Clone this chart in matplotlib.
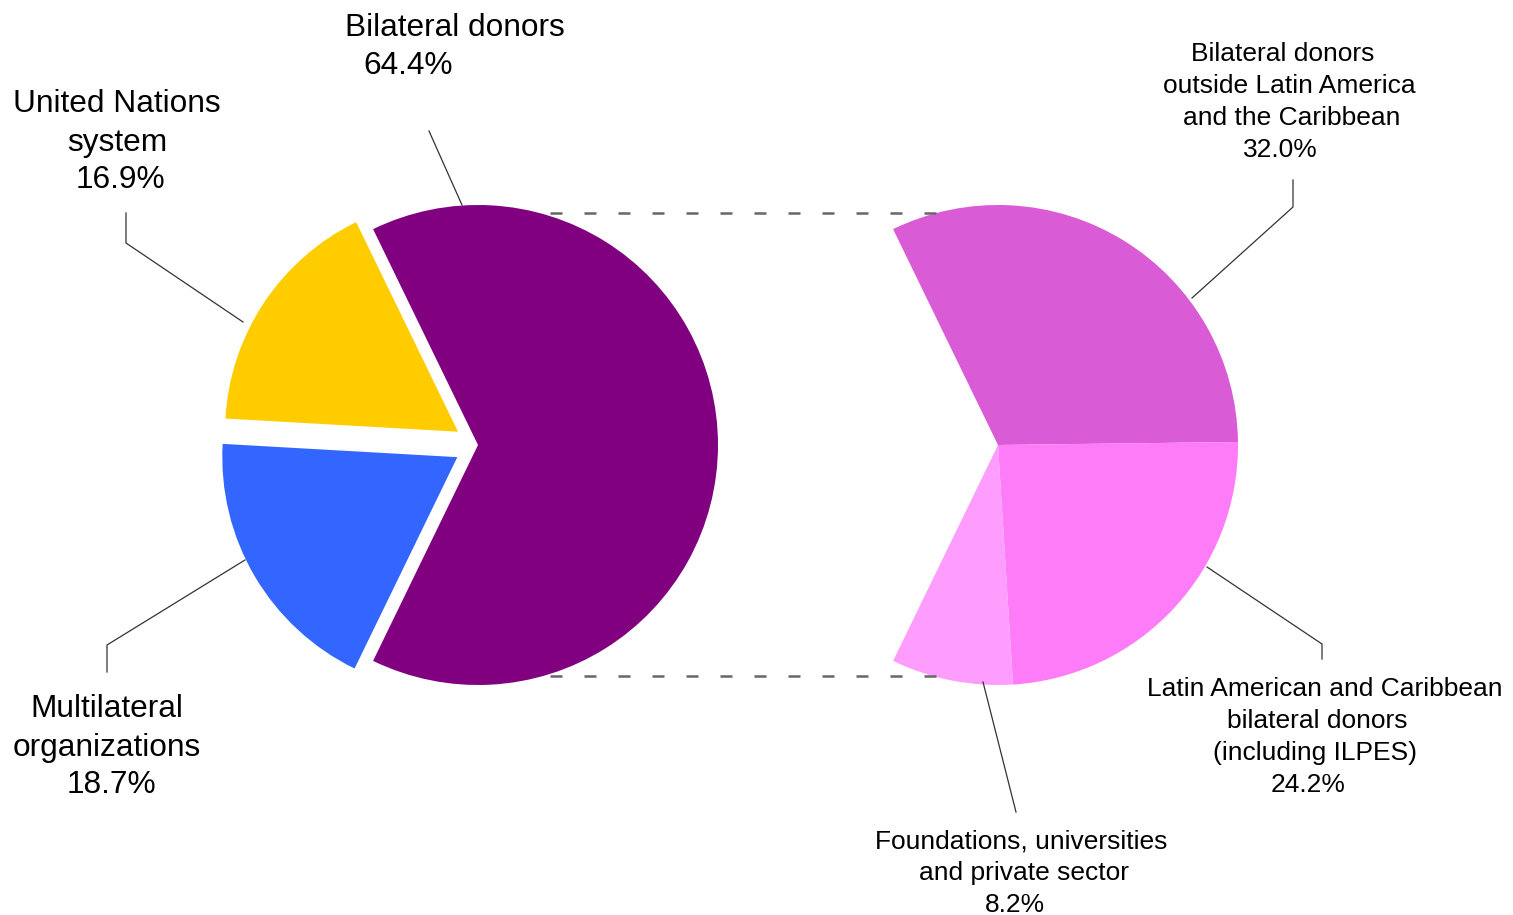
import matplotlib.pyplot as plt

# Left pie: sources of funding (percent)
main_labels = ["Bilateral donors", "United Nations\nsystem", "Multilateral\norganizations"]
main_shares = [64.4, 16.9, 18.7]
main_colors = ["#800080", "#FFCC00", "#3366FF"]
main_explode = [0.0, 0.1, 0.1]

# Right pie: breakdown of bilateral donors (percent of total)
sub_labels = ["Bilateral donors\noutside Latin America\nand the Caribbean",
              "Latin American and Caribbean\nbilateral donors\n(including ILPES)",
              "Foundations, universities\nand private sector"]
sub_shares = [32.0, 24.2, 8.2]
sub_colors = ["#D95BD6", "#FF7CF8", "#FF9DFF"]

plt.rcParams["font.family"] = ["Liberation Sans", "DejaVu Sans"]

W, H = 1513, 915
fig = plt.figure(figsize=(W / 100, H / 100), dpi=100)
ax = fig.add_axes([0, 0, 1, 1])


def py(y):
    # pixel row (from top) -> data y
    return H - y


R = 240
left_c = (478, py(445))
right_c = (998, py(445))

# the bilateral wedge is centred on the right-hand side
half = main_shares[0] / 100 * 180
# pie's explode offset is in data units, so scale it by the radius
wedges, _ = ax.pie(main_shares, colors=main_colors,
                   explode=[e * R for e in main_explode],
                   startangle=-half, counterclock=True, radius=R,
                   center=left_c, wedgeprops=dict(linewidth=0), frame=True)
# the pulled-out slices are drawn a touch smaller in the original
wedges[1].set_radius(233)
wedges[2].set_radius(235)

ax.pie([s / 100 for s in sub_shares], colors=sub_colors, normalize=False,
       startangle=half, counterclock=False, radius=R, center=right_c,
       wedgeprops=dict(linewidth=0), frame=True)
ax.set_xlim(0, W)
ax.set_ylim(0, H)
ax.set_aspect("equal")
ax.axis("off")

# dashed connectors between the two pies
for yy in (213, 676):
    ax.plot([550, 937], [py(yy), py(yy)], color="#666666", lw=1.8,
            linestyle=(0, (4.8, 8.8)), solid_capstyle="butt")

# leader lines (pixel coords from top)
leaders = [
    [(429, 131), (462, 205)],
    [(126, 213), (126, 243), (243, 322)],
    [(107, 672), (107, 645), (245, 560)],
    [(1293, 180), (1293, 207), (1192, 298)],
    [(1322, 659), (1322, 644), (1207, 567)],
    [(1016, 812), (983, 682)],
]
for pts in leaders:
    xs = [p[0] for p in pts]
    ys = [py(p[1]) for p in pts]
    ax.plot(xs, ys, color="#333333", lw=0.9)

# label line positions (centre x, centre y in pixels from top)
main_pos = [
    [(455, 28), (408, 66)],
    [(117, 104), (117, 143), (120, 180)],
    [(107, 709), (107, 748), (111, 785)],
]
sub_pos = [
    [(1283, 54), (1289, 86), (1292, 118), (1280, 150)],
    [(1325, 689), (1317, 721), (1315, 753), (1308, 785)],
    [(1021, 841), (1024, 873), (1015, 905)],
]


def put_label(name, share, positions, size):
    lines = name.split("\n") + [f"{share:.1f}%"]
    for txt, (x, y) in zip(lines, positions):
        ax.text(x, py(y), txt, ha="center", va="center", fontsize=size,
                color="black")


for name, share, pos in zip(main_labels, main_shares, main_pos):
    put_label(name, share, pos, 22.8)
for name, share, pos in zip(sub_labels, sub_shares, sub_pos):
    put_label(name, share, pos, 19)

fig.savefig("out.png", dpi=100, facecolor="white")
